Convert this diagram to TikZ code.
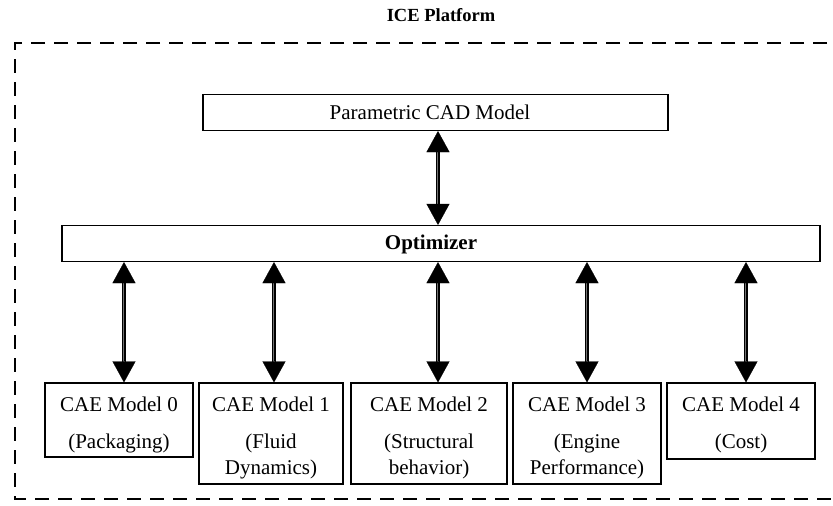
\documentclass[tikz,border=0pt]{standalone}
\usepackage{fontspec}
\setmainfont{Liberation Serif}
\usetikzlibrary{arrows.meta}
\begin{document}
\begin{tikzpicture}[x=1pt,y=-1pt,
  box/.style={draw,line width=1.2pt,rectangle,inner sep=0pt},
  lbl/.style={inner sep=0pt,font=\fontsize{21}{24}\selectfont},
  shaft/.style={draw=black,line width=1.4pt,double=black!55,double distance=2pt,
                shorten <=19pt,shorten >=19pt},
  tips/.style={line width=0.2pt,{Triangle[width=23pt,length=21pt]}-{Triangle[width=23pt,length=21pt]}},
  frame/.style={line width=2.8pt,dash pattern=on 14pt off 9pt}]
\useasboundingbox (0,0) rectangle (833,506);

% title and dashed platform boundary
\node[inner sep=0pt,font=\fontsize{18.5}{20}\selectfont\bfseries] (title) at (441,15) {ICE Platform};
\coordinate (ftr) at (850,43);
\coordinate (ftl) at (15,43);
\coordinate (fbl) at (15,499);
\coordinate (fbr) at (850,499);
\draw[frame] (ftr) -- (ftl) -- (fbl) -- (fbr);

% CAD model and optimizer
\node[box,minimum width=465pt,minimum height=36pt] (cad) at (435.5,112.5) {};
\node[lbl] at (430,112) {Parametric CAD Model};
\node[box,minimum width=758pt,minimum height=36pt] (opt) at (441,243.5) {};
\node[lbl,font=\fontsize{21}{24}\selectfont\bfseries] at (431,244) {Optimizer};

% CAE models
\node[box,minimum width=148pt,minimum height=74pt] (c0) at (119,420) {};
\node[box,minimum width=144pt,minimum height=101pt] (c1) at (271,433.5) {};
\node[box,minimum width=156pt,minimum height=101pt] (c2) at (429,433.5) {};
\node[box,minimum width=148pt,minimum height=101pt] (c3) at (587,433.5) {};
\node[box,minimum width=148pt,minimum height=76pt] (c4) at (741,421) {};

\node[lbl] at (119,404) {CAE Model 0};
\node[lbl] at (119,443) {(Packaging)};
\node[lbl] at (271,404) {CAE Model 1};
\node[lbl] at (271,443) {(Fluid};
\node[lbl] at (271,469) {Dynamics)};
\node[lbl] at (429,404) {CAE Model 2};
\node[lbl] at (429,443) {(Structural};
\node[lbl] at (429,469) {behavior)};
\node[lbl] at (587,404) {CAE Model 3};
\node[lbl] at (587,443) {(Engine};
\node[lbl] at (587,469) {Performance)};
\node[lbl] at (741,404) {CAE Model 4};
\node[lbl] at (741,443) {(Cost)};

% arrow columns
\coordinate (xa) at (438,0);
\coordinate (x0) at (124,0);
\coordinate (x1) at (274,0);
\coordinate (x2) at (438,0);
\coordinate (x3) at (587,0);
\coordinate (x4) at (746,0);

\draw[shaft] (xa |- cad.south) -- (xa |- opt.north);
\draw[tips]  (xa |- cad.south) -- (xa |- opt.north);
\foreach \i in {0,...,4}{
  \draw[shaft] (x\i |- opt.south) -- (x\i |- c\i.north);
  \draw[tips]  (x\i |- opt.south) -- (x\i |- c\i.north);
}
\end{tikzpicture}
\end{document}
